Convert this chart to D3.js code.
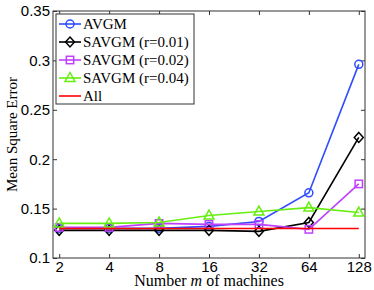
<!DOCTYPE html>
<html>
<head>
<meta charset="utf-8">
<script src="https://cdn.jsdelivr.net/npm/d3@7"></script>
<style>
  body { margin: 0; background: #fff; }
  .tick text { font-family: "Liberation Sans", Arial, sans-serif; font-size: 15px; fill: #000; }
  .lbl { font-family: "Liberation Serif", "Times New Roman", serif; font-size: 15px; fill: #000; }
</style>
</head>
<body>
<svg class="chart"></svg>
<script>
// values
var machines = [2, 4, 8, 16, 32, 64, 128];
var avgm     = [0.130, 0.130, 0.130, 0.132, 0.137, 0.166, 0.296];
var savgm01  = [0.128, 0.128, 0.128, 0.128, 0.127, 0.136, 0.222];
var savgm02  = [0.131, 0.131, 0.135, 0.134, 0.134, 0.129, 0.175];
var savgm04  = [0.135, 0.135, 0.136, 0.143, 0.147, 0.151, 0.146];
var allData  = [0.1298, 0.1298, 0.1298, 0.1298, 0.1298, 0.1298, 0.1298];
var yTicks = [0.1, 0.15, 0.2, 0.25, 0.3, 0.35];
var seriesNames = ['AVGM', 'SAVGM (r=0.01)', 'SAVGM (r=0.02)', 'SAVGM (r=0.04)', 'All'];

var W = 374, H = 290;
var margin = {top: 11, right: 9, bottom: 32, left: 53},
	width = W - margin.left - margin.right,
	height = H - margin.top - margin.bottom;

var svg = d3.select('.chart').attr('width', W).attr('height', H);
var g = svg.append('g').attr('transform', 'translate(' + margin.left + ',' + margin.top + ')');

var x = d3.scaleLog().base(2).domain([2 / 1.09, 128 * 1.09]).range([0, width]),
	y = d3.scaleLinear().domain([0.1, 0.35]).range([height, 0]);

var series = [
	{name: seriesNames[0], values: avgm, color: '#2f4cff', marker: 'circle'},
	{name: seriesNames[1], values: savgm01, color: '#000000', marker: 'diamond'},
	{name: seriesNames[2], values: savgm02, color: '#c040ff', marker: 'square'},
	{name: seriesNames[3], values: savgm04, color: '#66ee11', marker: 'triangle'},
	{name: seriesNames[4], values: allData, color: '#ff0000', marker: null}
];

var axisColor = '#333';
var tk = 4;

// axes with inward ticks
var xAxis = g.append('g').attr('transform', 'translate(0,' + height + ')')
	.call(d3.axisBottom(x).tickValues(machines).tickFormat(d3.format('d')).tickSizeInner(-tk).tickSizeOuter(0).tickPadding(3));
var xTop = g.append('g')
	.call(d3.axisTop(x).tickValues(machines).tickFormat('').tickSizeInner(-tk).tickSizeOuter(0));
var yAxis = g.append('g')
	.call(d3.axisLeft(y).tickValues(yTicks).tickFormat(function(d) { return String(+d.toFixed(2)); }).tickSizeInner(-tk).tickSizeOuter(0).tickPadding(3));
var yRight = g.append('g').attr('transform', 'translate(' + width + ',0)')
	.call(d3.axisRight(y).tickValues(yTicks).tickFormat('').tickSizeInner(-tk).tickSizeOuter(0));
[xAxis, xTop, yAxis, yRight].forEach(function(a) {
	a.select('.domain').remove();
	a.selectAll('.tick line').attr('stroke', axisColor);
});

g.append('rect')
	.attr('width', width).attr('height', height)
	.attr('fill', 'none').attr('stroke', axisColor).attr('stroke-width', 1);

function marker(sel, type, color) {
	if (type === 'circle') {
		sel.append('circle').attr('r', 4);
	} else if (type === 'diamond') {
		sel.append('path').attr('d', 'M0,-5L4.5,0L0,5L-4.5,0Z');
	} else if (type === 'square') {
		sel.append('rect').attr('x', -3.7).attr('y', -3.7).attr('width', 7.4).attr('height', 7.4);
	} else if (type === 'triangle') {
		sel.append('path').attr('d', 'M0,-5.5L5,3.5L-5,3.5Z');
	}
	sel.selectAll('*').attr('fill', 'none').attr('stroke', color).attr('stroke-width', 1.5);
}

var line = d3.line()
	.x(function(d, i) { return x(machines[i]); })
	.y(function(d) { return y(d); });

series.forEach(function(s) {
	g.append('path')
		.attr('d', line(s.values))
		.attr('fill', 'none')
		.attr('stroke', s.color)
		.attr('stroke-width', 1.6);
	if (s.marker) {
		s.values.forEach(function(v, i) {
			var m = g.append('g').attr('transform', 'translate(' + x(machines[i]) + ',' + y(v) + ')');
			marker(m, s.marker, s.color);
		});
	}
});

// legend
var leg = svg.append('g').attr('transform', 'translate(56,14)');
leg.append('rect')
	.attr('width', 138).attr('height', 90)
	.attr('fill', '#fff').attr('stroke', axisColor).attr('stroke-width', 1);
series.forEach(function(s, i) {
	var row = leg.append('g').attr('transform', 'translate(0,' + (10 + i * 18) + ')');
	row.append('line').attr('x1', 3).attr('x2', 25).attr('stroke', s.color).attr('stroke-width', 1.6);
	if (s.marker) {
		var m = row.append('g').attr('transform', 'translate(14,0)');
		marker(m, s.marker, s.color);
	}
	row.append('text').attr('class', 'lbl').attr('x', 27).attr('dy', '0.35em').text(s.name);
});

// axis titles
var xl = svg.append('text').attr('class', 'lbl')
	.attr('x', margin.left + width / 2).attr('y', 286)
	.attr('text-anchor', 'middle')
	.style('font-size', '16px');
xl.append('tspan').text('Number ');
xl.append('tspan').attr('font-style', 'italic').text('m');
xl.append('tspan').text(' of machines');

svg.append('text').attr('class', 'lbl')
	.attr('transform', 'translate(17,' + (margin.top + height / 2) + ') rotate(-90)')
	.attr('text-anchor', 'middle')
	.text('Mean Square Error');
</script>
</body>
</html>
